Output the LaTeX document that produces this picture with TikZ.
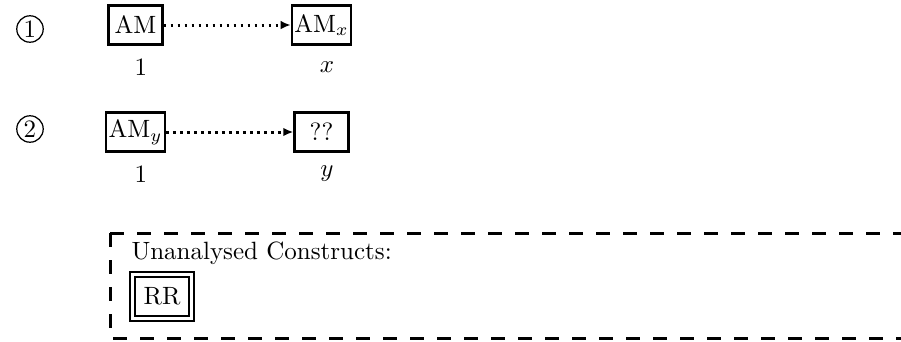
\documentclass[tikz,border=0pt]{standalone}
\usepackage{amsmath}
\usepackage{tikz}
\usetikzlibrary{arrows.meta}

\begin{document}
\begin{tikzpicture}[x=0.4pt,y=-0.4pt,
		cell/.style={draw, line width=0.9pt, minimum width=21.6pt, minimum height=15.6pt, inner sep=1pt},
		dotline/.style={line width=1.2pt, dash pattern=on 1.1pt off 1.7pt, -{Latex[length=4pt,width=3.4pt]}},
		stepno/.style={circle, draw, line width=0.5pt, inner sep=0.8pt}]
		\useasboundingbox (0,0) rectangle (901,341);
		% step 1
		\node[stepno] (n1) at (30,29) {1};
		\node[cell] (am) at (135.5,25) {AM};
		\node[cell] (amx) at (321.5,25) {AM$_x$};
		\node (l1) at (141,67) {1};
		\node (lx) at (327,67) {$x$};
		\draw[dotline] (am) -- (amx);
		% step 2
		\node[stepno] (n2) at (30,129) {2};
		\node[cell] (amy) at (135.5,132) {AM$_y$};
		\node[cell] (qq) at (321.5,132) {??};
		\node (l2) at (141,174) {1};
		\node (ly) at (327,174) {$y$};
		\draw[dotline] (amy) -- (qq);
		% unanalysed
		\draw[line width=1.2pt, dash pattern=on 5.6pt off 5.2pt] (110,233) rectangle (930,338);
		\node[anchor=west, inner sep=0pt] (un) at (131,253) {Unanalysed Constructs:};
		\node[draw, line width=0.8pt, double, double distance=1.2pt, minimum width=23.6pt, minimum height=17.8pt] (rr) at (162,296.5) {RR};
	\end{tikzpicture}
\end{document}
